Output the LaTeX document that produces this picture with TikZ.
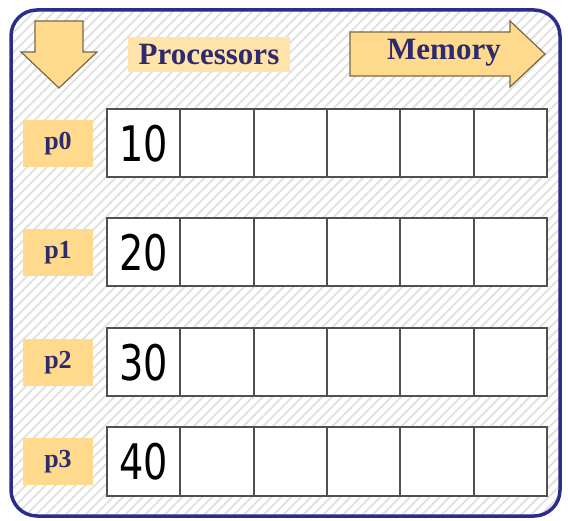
\documentclass[tikz,border=0pt]{standalone}
\usepackage{fontspec}
\setmainfont{Liberation Serif}
\newfontfamily\cellfont[FakeStretch=0.78]{DejaVu Sans}
\usetikzlibrary{positioning,patterns.meta}
\definecolor{navy}{RGB}{46,42,110}
\definecolor{framenavy}{RGB}{44,44,140}
\definecolor{peach}{RGB}{255,218,140}
\definecolor{arrowedge}{RGB}{120,104,72}
\definecolor{cellgray}{RGB}{80,80,80}
\definecolor{hatchgray}{RGB}{224,224,224}

\begin{document}
\begin{tikzpicture}[
    x=1pt, y=-1pt,
    lbl/.style={fill=peach, text=navy, inner sep=0pt,
      font=\bfseries\fontsize{26}{30}\selectfont,
      minimum width=70pt, minimum height=47pt},
    head/.style={text=navy, inner sep=0pt,
      font=\bfseries\fontsize{31}{36}\selectfont},
    cell/.style={draw=cellgray, line width=2pt, fill=white,
      minimum width=73.33pt, minimum height=68pt, inner sep=0pt, outer sep=0pt,
      font=\cellfont\fontsize{49}{56}\selectfont},
    bigarrow/.style={draw=arrowedge, line width=1.2pt, fill=peach}]

  \useasboundingbox (0,0) rectangle (568,521);

  % ---- frame with hatched background ------------------------------------
  \draw[framenavy, line width=3.5pt, rounded corners=26pt,
        preaction={fill=white},
        pattern={Lines[angle=45, distance=7pt, line width=1.8pt]},
        pattern color=hatchgray]
      (11,10) rectangle (560,516);

  % ---- header: arrows and titles ----------------------------------------
  \draw[bigarrow] (35,21) -- (83,21) -- (83,52) -- (97,52) -- (59,88)
      -- (21,52) -- (35,52) -- cycle;
  \node[head, fill=peach!75, minimum width=162pt, minimum height=35pt]
      (procs) at (209,55) {Processors};
  \draw[bigarrow] (350,32) -- (510,32) -- (510,21) -- (545,54)
      -- (510,87) -- (510,76) -- (350,76) -- cycle;
  \node[head] (mem) at (444,53) {Memory};

  % ---- one row of memory cells per processor ----------------------------
  \foreach \r/\y/\v in {0/143.5/10, 1/252.5/20, 2/362.5/30, 3/461.5/40} {
    \node[lbl]  (p\r)   at (58,\y)    {p\r};
    \node[cell] (m\r0)  at (143.67,\y) {\v};
    \foreach \c in {1,...,5}
      \node[cell] (m\r\c) at ({143.67+73.33*\c},\y) {};
  }
\end{tikzpicture}
\end{document}
